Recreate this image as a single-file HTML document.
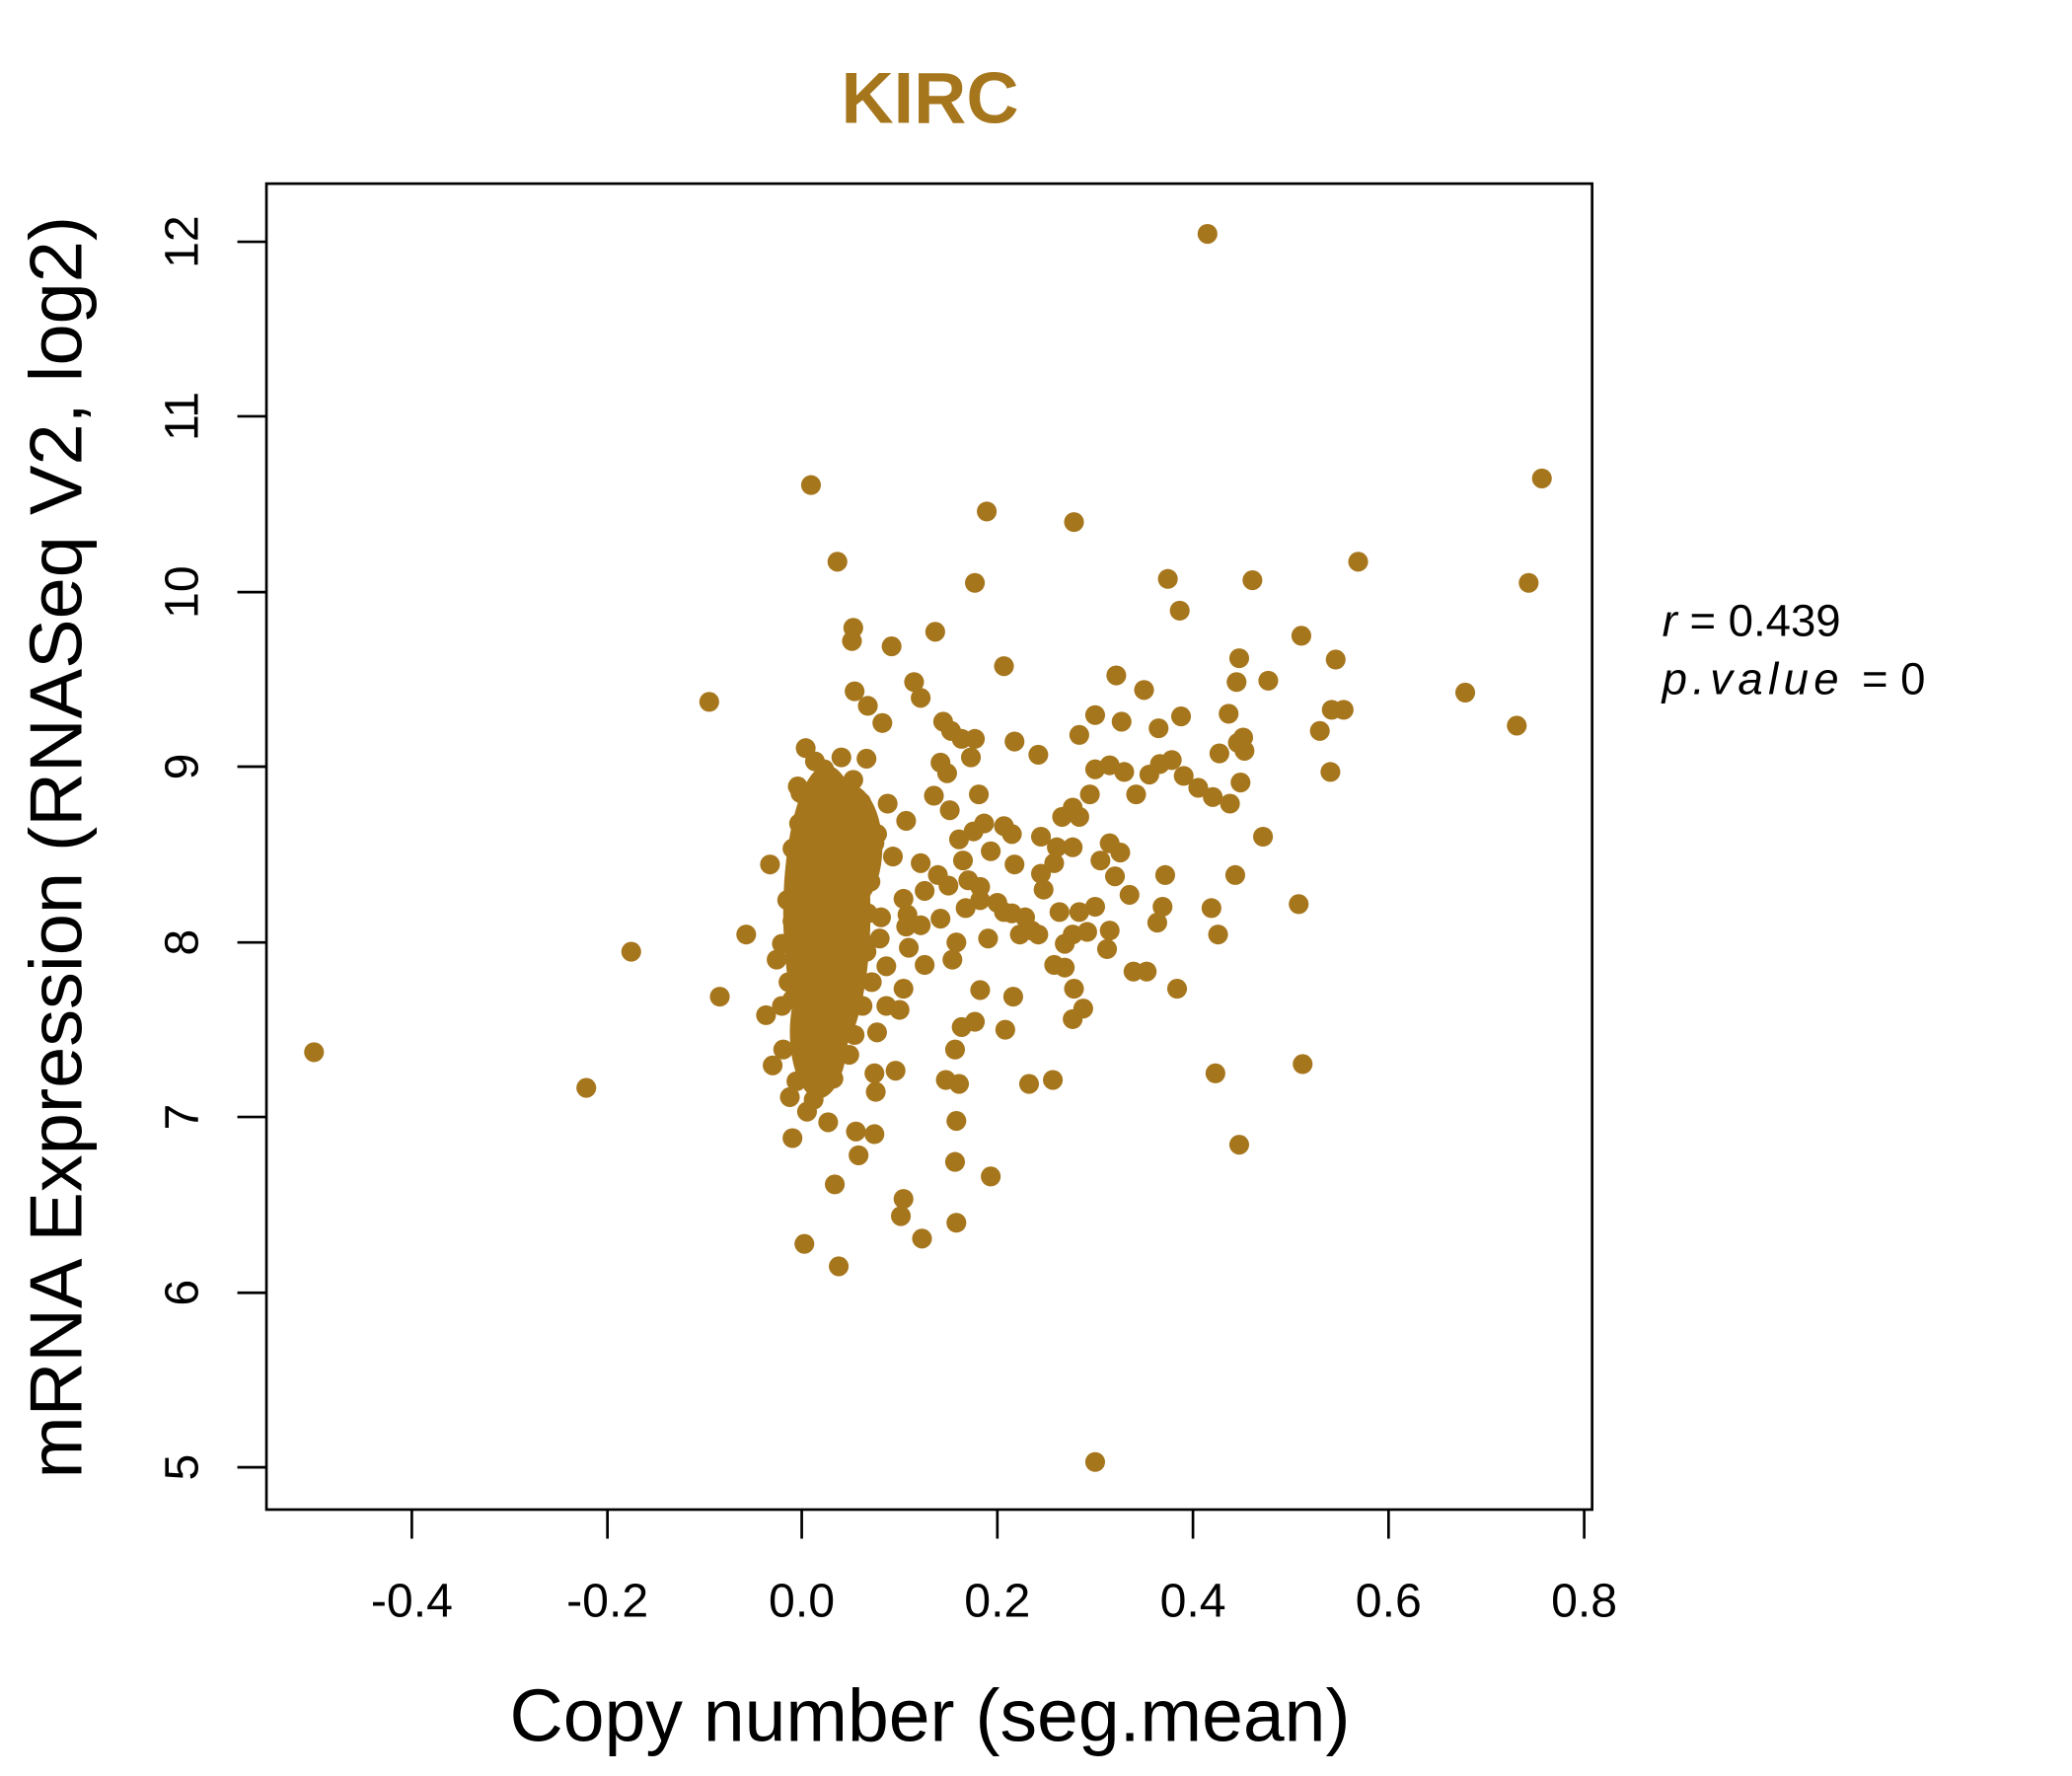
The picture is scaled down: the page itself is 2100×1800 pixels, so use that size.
<!DOCTYPE html>
<html><head><meta charset="utf-8"><style>html,body{margin:0;padding:0;background:#fff}svg{display:block}</style></head>
<body>
<svg width="2100" height="1800" viewBox="0 0 1552 1330" preserveAspectRatio="none" xmlns="http://www.w3.org/2000/svg" font-family="Liberation Sans, sans-serif">
<rect width="1552" height="1330" fill="#fff"/>
<g transform="translate(-0.4,0.9) scale(0.99)">
<text x="704" y="92" font-size="55" font-weight="bold" fill="#A6761D" text-anchor="middle">KIRC</text>
<rect x="202" y="138" width="1003" height="1003" fill="none" stroke="#000" stroke-width="2"/>
<g stroke="#000" stroke-width="2">
<line x1="312" y1="1141" x2="312" y2="1163"/><line x1="460" y1="1141" x2="460" y2="1163"/><line x1="607" y1="1141" x2="607" y2="1163"/><line x1="755" y1="1141" x2="755" y2="1163"/><line x1="903" y1="1141" x2="903" y2="1163"/><line x1="1051" y1="1141" x2="1051" y2="1163"/><line x1="1199" y1="1141" x2="1199" y2="1163"/>
<line x1="202" y1="182" x2="180" y2="182"/><line x1="202" y1="314" x2="180" y2="314"/><line x1="202" y1="447" x2="180" y2="447"/><line x1="202" y1="579" x2="180" y2="579"/><line x1="202" y1="712" x2="180" y2="712"/><line x1="202" y1="844" x2="180" y2="844"/><line x1="202" y1="977" x2="180" y2="977"/><line x1="202" y1="1109" x2="180" y2="1109"/>
</g>
<g font-size="36" text-anchor="middle">
<text x="312" y="1222">-0.4</text><text x="460" y="1222">-0.2</text><text x="607" y="1222">0.0</text><text x="755" y="1222">0.2</text><text x="903" y="1222">0.4</text><text x="1051" y="1222">0.6</text><text x="1199" y="1222">0.8</text>
<text transform="translate(150,182) rotate(-90)">12</text><text transform="translate(150,314) rotate(-90)">11</text><text transform="translate(150,447) rotate(-90)">10</text><text transform="translate(150,579) rotate(-90)">9</text><text transform="translate(150,712) rotate(-90)">8</text><text transform="translate(150,844) rotate(-90)">7</text><text transform="translate(150,977) rotate(-90)">6</text><text transform="translate(150,1109) rotate(-90)">5</text>
</g>
<text x="704" y="1316" font-size="56" text-anchor="middle" textLength="636" lengthAdjust="spacingAndGlyphs">Copy number (seg.mean)</text>
<text transform="translate(62,640) rotate(-90)" font-size="56" text-anchor="middle" textLength="955" lengthAdjust="spacingAndGlyphs">mRNA Expression (RNASeq V2, log2)</text>
<text x="1258" y="480" font-size="34"><tspan font-style="italic">r</tspan> = 0.439</text>
<text x="1258" y="524" font-size="34" font-style="italic" letter-spacing="4">p.value <tspan font-style="normal" letter-spacing="0">= 0</tspan></text>
<g fill="#A6761D">
<ellipse cx="626" cy="690" rx="33" ry="112"/>
<ellipse cx="620" cy="780" rx="22" ry="50"/>
<ellipse cx="642" cy="640" rx="26" ry="48"/>
<circle cx="238" cy="795" r="7.5"/><circle cx="444" cy="822" r="7.5"/><circle cx="478" cy="719" r="7.5"/><circle cx="537" cy="530" r="7.5"/><circle cx="545" cy="753" r="7.5"/><circle cx="565" cy="706" r="7.5"/><circle cx="583" cy="653" r="7.5"/><circle cx="580" cy="767" r="7.5"/><circle cx="585" cy="805" r="7.5"/><circle cx="600" cy="860" r="7.5"/><circle cx="609" cy="940" r="7.5"/><circle cx="635" cy="957" r="7.5"/><circle cx="632" cy="895" r="7.5"/><circle cx="614" cy="366" r="7.5"/><circle cx="634" cy="424" r="7.5"/><circle cx="646" cy="474" r="7.5"/><circle cx="645" cy="484" r="7.5"/><circle cx="675" cy="488" r="7.5"/><circle cx="708" cy="477" r="7.5"/><circle cx="738" cy="440" r="7.5"/><circle cx="747" cy="386" r="7.5"/><circle cx="760" cy="503" r="7.5"/><circle cx="692" cy="515" r="7.5"/><circle cx="697" cy="527" r="7.5"/><circle cx="668" cy="546" r="7.5"/><circle cx="657" cy="533" r="7.5"/><circle cx="647" cy="522" r="7.5"/><circle cx="714" cy="545" r="7.5"/><circle cx="720" cy="552" r="7.5"/><circle cx="728" cy="558" r="7.5"/><circle cx="738" cy="558" r="7.5"/><circle cx="768" cy="560" r="7.5"/><circle cx="786" cy="570" r="7.5"/><circle cx="735" cy="572" r="7.5"/><circle cx="712" cy="576" r="7.5"/><circle cx="717" cy="584" r="7.5"/><circle cx="707" cy="601" r="7.5"/><circle cx="719" cy="612" r="7.5"/><circle cx="741" cy="600" r="7.5"/><circle cx="745" cy="622" r="7.5"/><circle cx="737" cy="628" r="7.5"/><circle cx="760" cy="624" r="7.5"/><circle cx="766" cy="630" r="7.5"/><circle cx="726" cy="634" r="7.5"/><circle cx="750" cy="643" r="7.5"/><circle cx="768" cy="653" r="7.5"/><circle cx="686" cy="620" r="7.5"/><circle cx="672" cy="607" r="7.5"/><circle cx="662" cy="637" r="7.5"/><circle cx="676" cy="647" r="7.5"/><circle cx="697" cy="652" r="7.5"/><circle cx="710" cy="661" r="7.5"/><circle cx="729" cy="650" r="7.5"/><circle cx="718" cy="669" r="7.5"/><circle cx="733" cy="665" r="7.5"/><circle cx="742" cy="670" r="7.5"/><circle cx="700" cy="673" r="7.5"/><circle cx="684" cy="679" r="7.5"/><circle cx="687" cy="691" r="7.5"/><circle cx="697" cy="699" r="7.5"/><circle cx="712" cy="694" r="7.5"/><circle cx="731" cy="686" r="7.5"/><circle cx="742" cy="680" r="7.5"/><circle cx="755" cy="682" r="7.5"/><circle cx="766" cy="690" r="7.5"/><circle cx="776" cy="693" r="7.5"/><circle cx="788" cy="660" r="7.5"/><circle cx="798" cy="652" r="7.5"/><circle cx="812" cy="640" r="7.5"/><circle cx="817" cy="617" r="7.5"/><circle cx="825" cy="600" r="7.5"/><circle cx="817" cy="555" r="7.5"/><circle cx="829" cy="540" r="7.5"/><circle cx="845" cy="510" r="7.5"/><circle cx="866" cy="521" r="7.5"/><circle cx="849" cy="545" r="7.5"/><circle cx="877" cy="550" r="7.5"/><circle cx="894" cy="541" r="7.5"/><circle cx="829" cy="581" r="7.5"/><circle cx="840" cy="578" r="7.5"/><circle cx="851" cy="583" r="7.5"/><circle cx="860" cy="600" r="7.5"/><circle cx="870" cy="585" r="7.5"/><circle cx="878" cy="577" r="7.5"/><circle cx="887" cy="574" r="7.5"/><circle cx="896" cy="586" r="7.5"/><circle cx="907" cy="595" r="7.5"/><circle cx="918" cy="602" r="7.5"/><circle cx="931" cy="607" r="7.5"/><circle cx="939" cy="591" r="7.5"/><circle cx="923" cy="569" r="7.5"/><circle cx="937" cy="561" r="7.5"/><circle cx="942" cy="567" r="7.5"/><circle cx="941" cy="557" r="7.5"/><circle cx="930" cy="539" r="7.5"/><circle cx="936" cy="515" r="7.5"/><circle cx="938" cy="497" r="7.5"/><circle cx="960" cy="514" r="7.5"/><circle cx="985" cy="480" r="7.5"/><circle cx="1011" cy="498" r="7.5"/><circle cx="999" cy="552" r="7.5"/><circle cx="1008" cy="536" r="7.5"/><circle cx="1017" cy="536" r="7.5"/><circle cx="1007" cy="583" r="7.5"/><circle cx="1028" cy="424" r="7.5"/><circle cx="1167" cy="361" r="7.5"/><circle cx="1157" cy="440" r="7.5"/><circle cx="1109" cy="523" r="7.5"/><circle cx="1148" cy="548" r="7.5"/><circle cx="884" cy="437" r="7.5"/><circle cx="893" cy="461" r="7.5"/><circle cx="948" cy="438" r="7.5"/><circle cx="956" cy="632" r="7.5"/><circle cx="935" cy="661" r="7.5"/><circle cx="917" cy="686" r="7.5"/><circle cx="922" cy="706" r="7.5"/><circle cx="983" cy="683" r="7.5"/><circle cx="891" cy="747" r="7.5"/><circle cx="858" cy="734" r="7.5"/><circle cx="868" cy="734" r="7.5"/><circle cx="880" cy="685" r="7.5"/><circle cx="876" cy="697" r="7.5"/><circle cx="882" cy="661" r="7.5"/><circle cx="855" cy="676" r="7.5"/><circle cx="844" cy="662" r="7.5"/><circle cx="833" cy="650" r="7.5"/><circle cx="840" cy="637" r="7.5"/><circle cx="848" cy="644" r="7.5"/><circle cx="812" cy="610" r="7.5"/><circle cx="804" cy="617" r="7.5"/><circle cx="788" cy="632" r="7.5"/><circle cx="800" cy="640" r="7.5"/><circle cx="790" cy="672" r="7.5"/><circle cx="802" cy="689" r="7.5"/><circle cx="817" cy="689" r="7.5"/><circle cx="829" cy="685" r="7.5"/><circle cx="840" cy="703" r="7.5"/><circle cx="838" cy="717" r="7.5"/><circle cx="823" cy="704" r="7.5"/><circle cx="812" cy="706" r="7.5"/><circle cx="806" cy="713" r="7.5"/><circle cx="798" cy="729" r="7.5"/><circle cx="806" cy="731" r="7.5"/><circle cx="813" cy="747" r="7.5"/><circle cx="820" cy="762" r="7.5"/><circle cx="812" cy="770" r="7.5"/><circle cx="786" cy="706" r="7.5"/><circle cx="772" cy="706" r="7.5"/><circle cx="781" cy="703" r="7.5"/><circle cx="760" cy="689" r="7.5"/><circle cx="748" cy="709" r="7.5"/><circle cx="724" cy="712" r="7.5"/><circle cx="721" cy="725" r="7.5"/><circle cx="700" cy="729" r="7.5"/><circle cx="688" cy="716" r="7.5"/><circle cx="686" cy="700" r="7.5"/><circle cx="684" cy="747" r="7.5"/><circle cx="681" cy="763" r="7.5"/><circle cx="678" cy="809" r="7.5"/><circle cx="662" cy="811" r="7.5"/><circle cx="663" cy="825" r="7.5"/><circle cx="648" cy="855" r="7.5"/><circle cx="662" cy="857" r="7.5"/><circle cx="650" cy="873" r="7.5"/><circle cx="684" cy="906" r="7.5"/><circle cx="682" cy="919" r="7.5"/><circle cx="698" cy="936" r="7.5"/><circle cx="724" cy="924" r="7.5"/><circle cx="723" cy="878" r="7.5"/><circle cx="724" cy="847" r="7.5"/><circle cx="716" cy="816" r="7.5"/><circle cx="726" cy="819" r="7.5"/><circle cx="723" cy="793" r="7.5"/><circle cx="738" cy="772" r="7.5"/><circle cx="728" cy="776" r="7.5"/><circle cx="742" cy="748" r="7.5"/><circle cx="767" cy="753" r="7.5"/><circle cx="761" cy="778" r="7.5"/><circle cx="779" cy="819" r="7.5"/><circle cx="797" cy="816" r="7.5"/><circle cx="750" cy="889" r="7.5"/><circle cx="920" cy="811" r="7.5"/><circle cx="938" cy="865" r="7.5"/><circle cx="986" cy="804" r="7.5"/><circle cx="829" cy="1105" r="7.5"/><circle cx="914" cy="176" r="7.5"/><circle cx="813" cy="394" r="7.5"/><circle cx="653" cy="760" r="7.5"/><circle cx="664" cy="780" r="7.5"/><circle cx="660" cy="742" r="7.5"/><circle cx="671" cy="730" r="7.5"/><circle cx="656" cy="719" r="7.5"/><circle cx="671" cy="760" r="7.5"/><circle cx="647" cy="782" r="7.5"/><circle cx="643" cy="797" r="7.5"/><circle cx="631" cy="815" r="7.5"/><circle cx="616" cy="831" r="7.5"/><circle cx="627" cy="848" r="7.5"/><circle cx="611" cy="840" r="7.5"/><circle cx="598" cy="829" r="7.5"/><circle cx="603" cy="817" r="7.5"/><circle cx="593" cy="793" r="7.5"/><circle cx="592" cy="760" r="7.5"/><circle cx="597" cy="742" r="7.5"/><circle cx="588" cy="725" r="7.5"/><circle cx="592" cy="713" r="7.5"/><circle cx="600" cy="696" r="7.5"/><circle cx="596" cy="680" r="7.5"/><circle cx="603" cy="665" r="7.5"/><circle cx="600" cy="641" r="7.5"/><circle cx="605" cy="622" r="7.5"/><circle cx="606" cy="599" r="7.5"/><circle cx="604" cy="594" r="7.5"/><circle cx="610" cy="565" r="7.5"/><circle cx="617" cy="575" r="7.5"/><circle cx="624" cy="581" r="7.5"/><circle cx="637" cy="572" r="7.5"/><circle cx="646" cy="589" r="7.5"/><circle cx="656" cy="573" r="7.5"/><circle cx="652" cy="606" r="7.5"/><circle cx="664" cy="630" r="7.5"/><circle cx="659" cy="666" r="7.5"/><circle cx="657" cy="690" r="7.5"/><circle cx="667" cy="693" r="7.5"/><circle cx="666" cy="709" r="7.5"/><circle cx="652" cy="710" r="7.5"/><circle cx="641" cy="728" r="7.5"/><circle cx="636" cy="750" r="7.5"/><circle cx="625" cy="770" r="7.5"/><circle cx="613" cy="788" r="7.5"/><circle cx="618" cy="800" r="7.5"/><circle cx="629" cy="807" r="7.5"/><circle cx="614" cy="812" r="7.5"/><circle cx="607" cy="778" r="7.5"/><circle cx="620" cy="745" r="7.5"/><circle cx="612" cy="720" r="7.5"/><circle cx="623" cy="700" r="7.5"/><circle cx="631" cy="684" r="7.5"/><circle cx="617" cy="660" r="7.5"/><circle cx="630" cy="640" r="7.5"/><circle cx="620" cy="620" r="7.5"/><circle cx="640" cy="615" r="7.5"/><circle cx="634" cy="660" r="7.5"/><circle cx="612" cy="680" r="7.5"/><circle cx="645" cy="680" r="7.5"/><circle cx="615" cy="740" r="7.5"/><circle cx="630" cy="730" r="7.5"/><circle cx="600" cy="755" r="7.5"/>
</g>
</g>
</svg>
</body></html>
